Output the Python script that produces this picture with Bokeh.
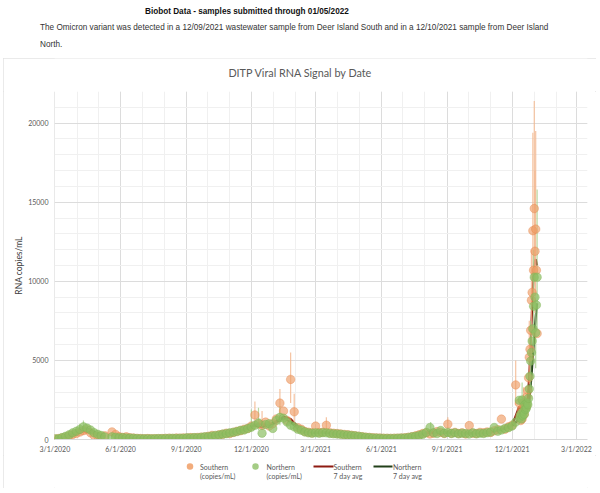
import pandas as pd
from bokeh.plotting import figure
from bokeh.layouts import column
from bokeh.models import FixedTicker, Range1d, Div
from bokeh.core.properties import value
from bokeh.embed import file_html
from bokeh.resources import INLINE

nan = float("nan")
START = pd.Timestamp("2020-03-01")

# ---------------- data (copies/mL) ----------------
# samples every 5 days from 3/1/2020 to 12/11/2021
SOUTH_5D = [
    30, 60, 90, 150, 230, 320, 380, 470, 560, 620,
    420, 250, 220, 180, 230, nan, 480, 320, 180, 130,
    170, 110, 90, 70, 60, 50, 60, 45, 55, 50,
    60, 70, 80, 65, 90, 80, 100, 90, 120, 110,
    130, 150, 160, 200, 260, 240, 300, 330, 400, 380,
    450, 520, 560, 650, 700, 850, 1550, 1000, 900, 1100,
    850, 1000, 1300, 2300, 1800, 1200, 3800, 1750, 750, 650,
    500, 460, 420, 850, 440, 460, 900, 420, 400, 380,
    350, 320, 300, 270, 240, 210, 180, 150, 130, 110,
    100, 90, 80, 75, 70, 80, 85, 90, 110, 140,
    180, 230, 300, 380, 420, 350, 400, 500, 450, 380,
    970, 400, 450, 380, 420, 350, 880, 400, 380, 450,
    420, 480, 450, 550, 620, 1290, 650, 800, 900, 3450,
    2300]
NORTH_5D = [
    40, 40, 120, 200, 300, 420, 520, 640, 800, 720,
    600, 430, 330, 250, 160, nan, 170, 140, 110, 120,
    100, 90, 80, 60, 50, 45, 50, 40, 50, 60,
    55, 60, 70, 75, 70, 85, 80, 110, 100, 120,
    110, 140, 170, 180, 220, 260, 280, 340, 370, 420,
    460, 500, 580, 600, 690, 780, 900, 1050, 400, 950,
    1000, 700, 1200, 1400, 1350, 1100, 900, 800, 650, 580,
    480, 420, 400, 420, 400, 430, 420, 380, 360, 350,
    330, 300, 280, 250, 230, 200, 170, 140, 120, 100,
    90, 80, 70, 70, 65, 70, 80, 90, 100, 130,
    170, 200, 260, 330, 450, 760, 420, 380, 570, 400,
    450, 380, 420, 360, 400, 380, 350, 420, 360, 400,
    380, 430, 470, 760, 520, 600, 700, 750, 850, 1100,
    2480]
# daily samples 12/12/2021 .. 1/5/2022
SOUTH_DAILY = [1500, 1200, 1900, 1300, 1700, 2300, 1600, 2000, 2300, 2100,
               2700, 3100, 3900, 5200, 5700, 6900, 8800, 9300, 13200, 10700,
               14600, 11900, 13300, 10700, 6700]
NORTH_DAILY = [1400, 1600, 1300, 2500, 1500, 1800, 1600, 2200, 1900, 2000,
               2300, 2200, 2600, 3200, 4000, 4960, 5500, 6220, 7000, 8430,
               10260, 9000, 6750, 8500, 10260]

# 7 day averages: every 10 days from 3/1/2020 to 12/11/2021, then daily
SOUTH_AVG_10D = [
    40, 80, 200, 350, 520, 450, 260, 200, nan, 250,
    140, 90, 60, 55, 55, 60, 75, 85, 95, 115,
    135, 165, 240, 300, 380, 450, 560, 700, 950, 980,
    900, 1150, 1450, 1300, 800, 520, 440, 450, 450, 400,
    350, 300, 240, 180, 130, 100, 80, 72, 85, 110,
    180, 300, 400, 420, 470, 450, 430, 410, 420, 400,
    430, 470, 600, 720, 900, 2100]
NORTH_AVG_10D = [
    40, 110, 280, 480, 720, 620, 350, 180, nan, 140,
    105, 85, 55, 50, 55, 60, 72, 80, 90, 105,
    125, 170, 220, 290, 370, 450, 560, 680, 880, 800,
    950, 1100, 1350, 1100, 700, 480, 410, 410, 410, 360,
    330, 280, 230, 170, 120, 90, 72, 67, 80, 100,
    170, 270, 420, 450, 450, 420, 410, 390, 380, 380,
    400, 450, 560, 680, 850, 1300]
SOUTH_AVG_DAILY = [2000, 1950, 1850, 1750, 1600, 1500, 1500, 1600, 1800, 2000,
                   2300, 2700, 3300, 4100, 5000, 6000, 7200, 8400, 9500, 10400,
                   11000, 11300, 11400, 11200, 11000]
NORTH_AVG_DAILY = [1400, 1500, 1450, 1600, 1550, 1650, 1700, 1650, 1800, 1850,
                   1950, 2050, 2250, 2500, 2900, 3400, 4000, 4600, 5300, 5900,
                   6500, 7100, 7700, 8200, 8600]

# error bars (lower / upper bound of selected samples)
SOUTH_ERR_DATES = ["2020-04-10", "2020-12-06", "2020-12-16", "2021-01-10", "2021-01-25",
                   "2021-01-30", "2021-03-16", "2021-09-02", "2021-12-06", "2021-12-17",
                   "2021-12-25", "2021-12-28", "2021-12-30", "2022-01-01", "2022-01-02",
                   "2022-01-03"]
SOUTH_ERR_LO = [300, 900, 600, 1400, 2300, 1000, 500, 600, 2200, 1500,
                3500, 6000, 9000, 10000, 8000, 9000]
SOUTH_ERR_HI = [900, 2400, 1800, 3200, 5500, 2900, 1400, 1400, 5000, 3300,
                7500, 12000, 19400, 21400, 17000, 19500]
NORTH_ERR_DATES = ["2020-04-05", "2020-04-10", "2020-12-01", "2020-12-11", "2021-01-10",
                   "2021-08-09", "2021-12-15", "2021-12-27", "2021-12-31", "2022-01-03",
                   "2022-01-05"]
NORTH_ERR_LO = [400, 500, 500, 600, 900, 500, 1500, 3000, 5500, 4500, 7000]
NORTH_ERR_HI = [1000, 1200, 1900, 2000, 2100, 1100, 3600, 7500, 12000, 9000, 15800]

X_TICK_DATES = ["2020-03-01", "2020-06-01", "2020-09-01", "2020-12-01", "2021-03-01",
                "2021-06-01", "2021-09-01", "2021-12-01", "2022-03-01"]
X_TICK_LABELS = ["3/1/2020", "6/1/2020", "9/1/2020", "12/1/2020", "3/1/2021",
                 "6/1/2021", "9/1/2021", "12/1/2021", "3/1/2022"]
Y_TICKS = [0, 5000, 10000, 15000, 20000]
Y_MINOR = list(range(1000, 23000, 1000))

LEGEND_LINE1 = ["Southern", "Northern", "Southern", "Northern"]
LEGEND_LINE2 = ["(copies/mL)", "(copies/mL)", "7 day avg", "7 day avg"]


def days(dates):
    return [int(d) for d in (pd.to_datetime(pd.Series(list(dates))) - START).dt.days]


pts_x = days(list(pd.date_range(START, periods=len(SOUTH_5D), freq="5D")) +
             list(pd.date_range("2021-12-12", periods=len(SOUTH_DAILY), freq="D")))
avg_x = days(list(pd.date_range(START, periods=len(SOUTH_AVG_10D), freq="10D")) +
             list(pd.date_range("2021-12-12", periods=len(SOUTH_AVG_DAILY), freq="D")))
s_pts = SOUTH_5D + SOUTH_DAILY
n_pts = NORTH_5D + NORTH_DAILY
s_avg = SOUTH_AVG_10D + SOUTH_AVG_DAILY
n_avg = NORTH_AVG_10D + NORTH_AVG_DAILY
x_ticks = days(X_TICK_DATES)
x_minor = days(pd.date_range("2020-03-01", "2022-03-01", freq="MS"))

S_COL, N_COL = "#EE9D66", "#8CBF62"
S_LINE, N_LINE = "#8E1B12", "#22401A"
FONT = "Lato"
GREY = "#595959"
X0, X1 = 3, 596          # chart box, page pixels
FL, FR = 54, 587         # plot frame, page pixels
W = X1 - X0

header = Div(
    width=600, height=58, margin=(0, 0, 0, 0),
    text=(
        '<div style="position:relative;width:600px;height:58px;'
        'font-family:\'Liberation Sans\',Arial,sans-serif;">'
        '<div style="position:absolute;left:145px;top:7px;font-size:8.2px;'
        'font-weight:bold;line-height:10px;white-space:nowrap;color:#111;">'
        'Biobot Data - samples submitted through 01/05/2022</div>'
        '<div style="position:absolute;left:40px;top:18.5px;font-size:8.2px;'
        'line-height:17px;white-space:nowrap;color:#333;">'
        'The Omicron variant was detected in a 12/09/2021 wastewater sample from Deer '
        'Island South and in a 12/10/2021 sample from Deer Island<br>North.</div>'
        '</div>'))


def strip(height, y_top):
    # frame shares the main plot's left/right borders; x/y are page pixels
    f = figure(width=W, height=height, output_backend="svg", toolbar_location=None,
               x_range=Range1d(FL, FR), y_range=Range1d(y_top + height, y_top),
               min_border_left=FL - X0, min_border_right=X1 - FR,
               min_border_top=0, min_border_bottom=0,
               x_axis_location=None, y_axis_location=None,
               background_fill_color="white", border_fill_color="white")
    f.outline_line_color = None
    f.grid.visible = False
    return f


# title strip (page y 58..91)
tf = strip(33, 58)
tf.text([300], [72], text=["DITP Viral RNA Signal by Date"], text_font=value(FONT),
        text_font_size=value("10.8px"), text_color=GREY, text_align="center",
        text_baseline="middle")

# main plot (page y 91..455)
p = figure(width=W, height=364, output_backend="svg", toolbar_location=None,
           x_range=Range1d(-0.5, 745.5), y_range=Range1d(0, 22000),
           min_border_left=FL - X0, min_border_right=X1 - FR, min_border_top=0,
           min_border_bottom=16,
           background_fill_color="white", border_fill_color="white")
p.outline_line_color = None

p.xaxis.ticker = FixedTicker(ticks=x_ticks, minor_ticks=x_minor)
p.xaxis.major_label_overrides = {t: l for t, l in zip(x_ticks, X_TICK_LABELS)}
p.yaxis.ticker = FixedTicker(ticks=Y_TICKS, minor_ticks=Y_MINOR)
for ax in (p.xaxis[0], p.yaxis[0]):
    ax.major_tick_line_color = None
    ax.minor_tick_line_color = None
    ax.major_tick_out = 0
    ax.minor_tick_out = 0
    ax.major_label_text_font = FONT
    ax.major_label_text_font_size = "7px"
    ax.major_label_text_color = GREY
p.yaxis.axis_line_color = None
p.xaxis.axis_line_color = "#D9D9D9"
p.yaxis.major_label_standoff = 6
p.xaxis.major_label_standoff = 5
p.yaxis.axis_label = "RNA copies/mL"
p.yaxis.axis_label_standoff = 1
p.yaxis.axis_label_text_font = FONT
p.yaxis.axis_label_text_font_size = "8.5px"
p.yaxis.axis_label_text_font_style = "normal"
p.yaxis.axis_label_text_color = "#404040"
for g in (p.xgrid[0], p.ygrid[0]):
    g.grid_line_color = "#DCDCDC"
    g.minor_grid_line_color = "#F0F0F0"

p.line(avg_x, s_avg, line_color=S_LINE, line_width=2.2)
p.line(avg_x, n_avg, line_color=N_LINE, line_width=2.2)
p.segment(days(SOUTH_ERR_DATES), SOUTH_ERR_LO, days(SOUTH_ERR_DATES), SOUTH_ERR_HI,
          line_color="#F2B48A", line_alpha=0.8, line_width=1.2)
p.segment(days(NORTH_ERR_DATES), NORTH_ERR_LO, days(NORTH_ERR_DATES), NORTH_ERR_HI,
          line_color="#A8CF8C", line_alpha=0.8, line_width=1.2)
p.scatter(pts_x, s_pts, size=8.5, fill_color=S_COL, fill_alpha=0.65,
          line_color="#E5874D", line_alpha=0.4)
p.scatter(pts_x, n_pts, size=8.5, fill_color=N_COL, fill_alpha=0.7,
          line_color="#7FB356", line_alpha=0.4)

# legend strip (page y 455..488)
lf = strip(33, 455)
lf.scatter([189.5], [466], size=6.5, fill_color="#F2AC7C", line_color=None)
lf.scatter([255], [466], size=6.5, fill_color="#A4CC85", line_color=None)
lf.segment([313], [466], [333], [466], line_color=S_LINE, line_width=2)
lf.segment([373], [466], [392], [466], line_color=N_LINE, line_width=2)
leg_x = [199.5, 266, 333, 392.5]
lf.text(leg_x, [466] * 4, text=LEGEND_LINE1, text_font=value(FONT),
        text_font_size=value("7px"), text_color=GREY, text_baseline="middle")
lf.text(leg_x, [475.5] * 4, text=LEGEND_LINE2, text_font=value(FONT),
        text_font_size=value("7px"), text_color=GREY, text_baseline="middle")

chart = column(tf, p, lf, spacing=0, margin=(0, 0, 0, X0),
               styles={"outline": "1px solid #E3E3E3", "outline-offset": "-1px"})
layout = column(header, chart, spacing=0, margin=(0, 0, 0, 0))
open("out.html", "w").write(file_html(layout, INLINE))
